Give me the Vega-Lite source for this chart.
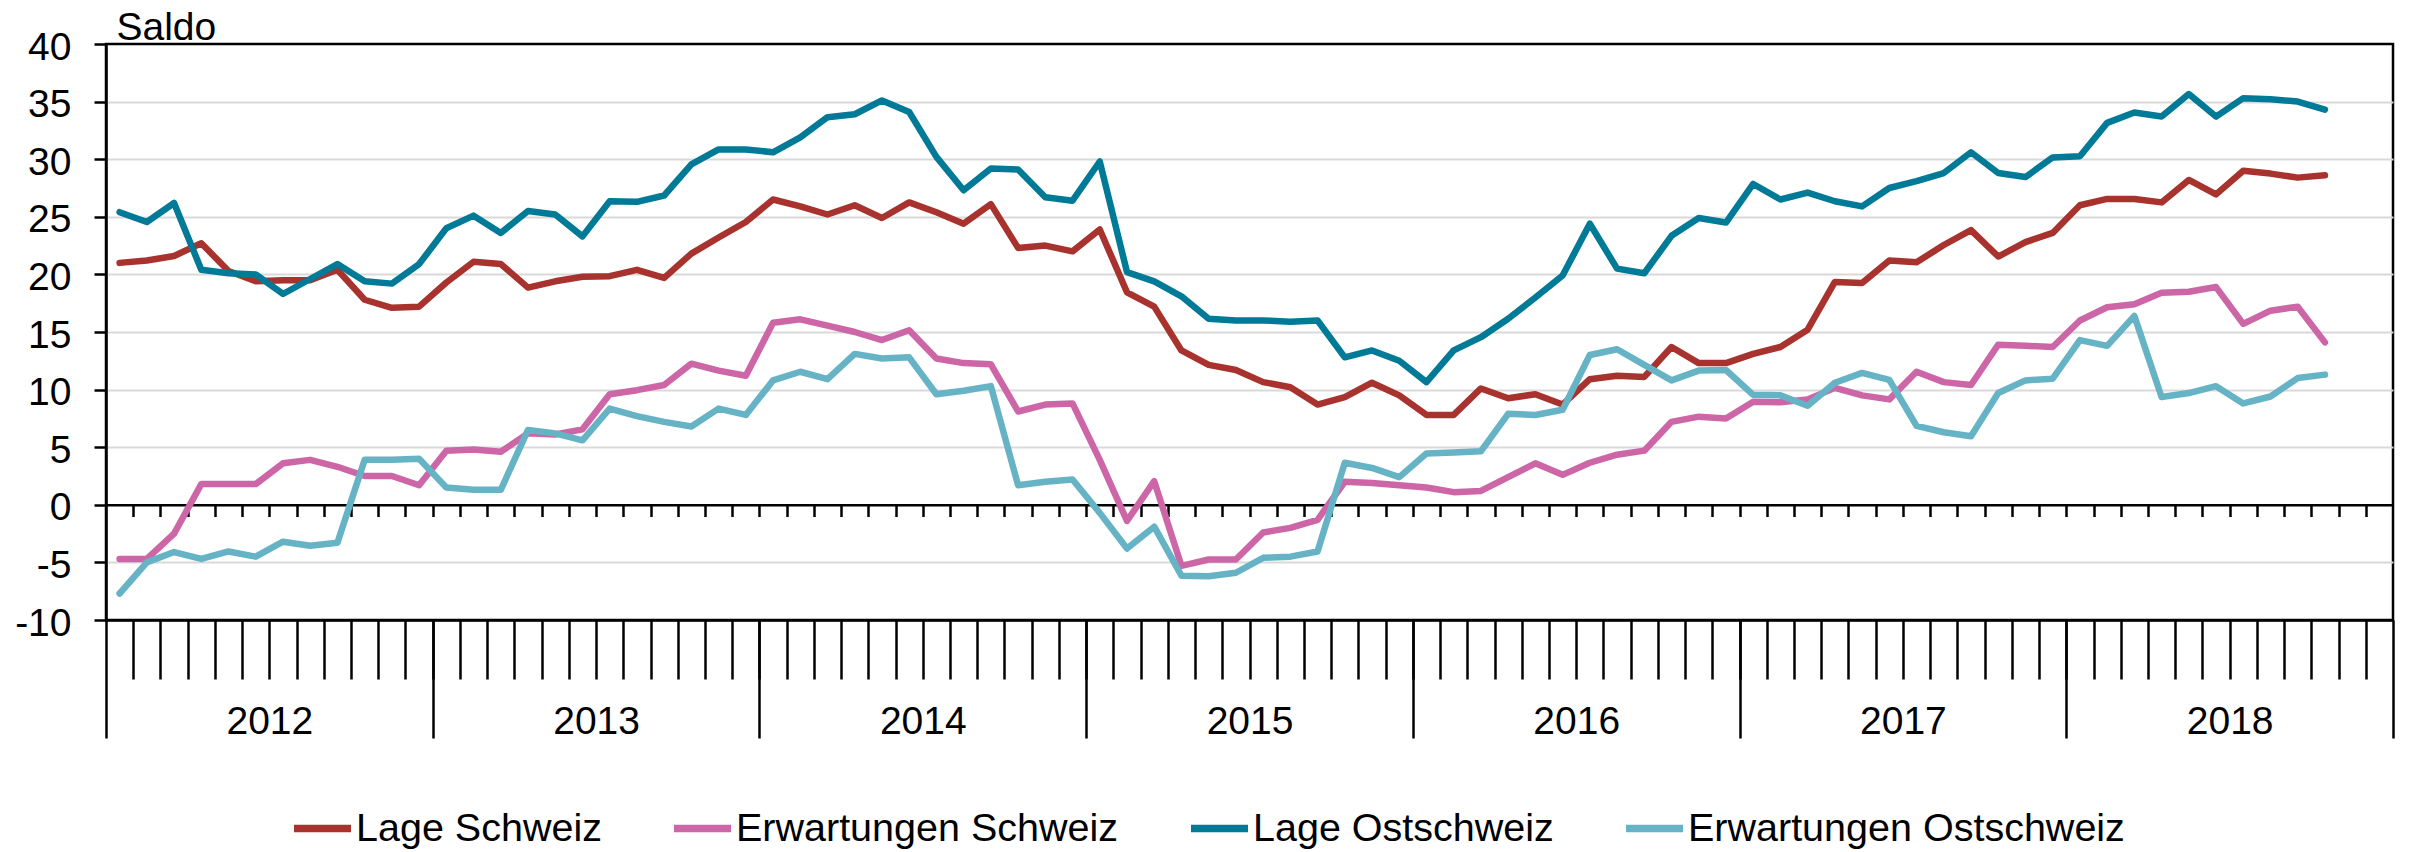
{
  "$schema": "https://vega.github.io/schema/vega-lite/v6.json",
  "width": 2287,
  "height": 576,
  "autosize": {"type": "none"},
  "padding": {"left": 106, "top": 44, "right": 17, "bottom": 232},
  "background": "white",
  "config": {
    "font": "Liberation Sans",
    "view": {"stroke": "black", "strokeWidth": 2.5},
    "axis": {"domainColor": "black", "domainWidth": 2.5, "tickColor": "black", "tickWidth": 2.5, "labelColor": "black", "labelFont": "Liberation Sans", "labelFontSize": 39, "grid": false}
  },
  "data": {"values": [
    {"m":0,"s":"Lage Schweiz","v":21.0},{"m":1,"s":"Lage Schweiz","v":21.2},{"m":2,"s":"Lage Schweiz","v":21.6},{"m":3,"s":"Lage Schweiz","v":22.7},{"m":4,"s":"Lage Schweiz","v":20.3},{"m":5,"s":"Lage Schweiz","v":19.4},{"m":6,"s":"Lage Schweiz","v":19.5},{"m":7,"s":"Lage Schweiz","v":19.5},{"m":8,"s":"Lage Schweiz","v":20.4},{"m":9,"s":"Lage Schweiz","v":17.8},{"m":10,"s":"Lage Schweiz","v":17.1},{"m":11,"s":"Lage Schweiz","v":17.2},
    {"m":12,"s":"Lage Schweiz","v":19.3},{"m":13,"s":"Lage Schweiz","v":21.1},{"m":14,"s":"Lage Schweiz","v":20.9},{"m":15,"s":"Lage Schweiz","v":18.85},{"m":16,"s":"Lage Schweiz","v":19.4},{"m":17,"s":"Lage Schweiz","v":19.8},{"m":18,"s":"Lage Schweiz","v":19.85},{"m":19,"s":"Lage Schweiz","v":20.4},{"m":20,"s":"Lage Schweiz","v":19.7},{"m":21,"s":"Lage Schweiz","v":21.8},{"m":22,"s":"Lage Schweiz","v":23.2},{"m":23,"s":"Lage Schweiz","v":24.55},
    {"m":24,"s":"Lage Schweiz","v":26.5},{"m":25,"s":"Lage Schweiz","v":25.9},{"m":26,"s":"Lage Schweiz","v":25.2},{"m":27,"s":"Lage Schweiz","v":26.0},{"m":28,"s":"Lage Schweiz","v":24.9},{"m":29,"s":"Lage Schweiz","v":26.25},{"m":30,"s":"Lage Schweiz","v":25.4},{"m":31,"s":"Lage Schweiz","v":24.4},{"m":32,"s":"Lage Schweiz","v":26.1},{"m":33,"s":"Lage Schweiz","v":22.3},{"m":34,"s":"Lage Schweiz","v":22.5},{"m":35,"s":"Lage Schweiz","v":22.0},
    {"m":36,"s":"Lage Schweiz","v":23.9},{"m":37,"s":"Lage Schweiz","v":18.45},{"m":38,"s":"Lage Schweiz","v":17.2},{"m":39,"s":"Lage Schweiz","v":13.4},{"m":40,"s":"Lage Schweiz","v":12.15},{"m":41,"s":"Lage Schweiz","v":11.7},{"m":42,"s":"Lage Schweiz","v":10.65},{"m":43,"s":"Lage Schweiz","v":10.2},{"m":44,"s":"Lage Schweiz","v":8.7},{"m":45,"s":"Lage Schweiz","v":9.35},{"m":46,"s":"Lage Schweiz","v":10.6},{"m":47,"s":"Lage Schweiz","v":9.5},
    {"m":48,"s":"Lage Schweiz","v":7.8},{"m":49,"s":"Lage Schweiz","v":7.8},{"m":50,"s":"Lage Schweiz","v":10.1},{"m":51,"s":"Lage Schweiz","v":9.25},{"m":52,"s":"Lage Schweiz","v":9.6},{"m":53,"s":"Lage Schweiz","v":8.7},{"m":54,"s":"Lage Schweiz","v":10.9},{"m":55,"s":"Lage Schweiz","v":11.2},{"m":56,"s":"Lage Schweiz","v":11.1},{"m":57,"s":"Lage Schweiz","v":13.7},{"m":58,"s":"Lage Schweiz","v":12.3},{"m":59,"s":"Lage Schweiz","v":12.3},
    {"m":60,"s":"Lage Schweiz","v":13.1},{"m":61,"s":"Lage Schweiz","v":13.7},{"m":62,"s":"Lage Schweiz","v":15.2},{"m":63,"s":"Lage Schweiz","v":19.35},{"m":64,"s":"Lage Schweiz","v":19.25},{"m":65,"s":"Lage Schweiz","v":21.2},{"m":66,"s":"Lage Schweiz","v":21.05},{"m":67,"s":"Lage Schweiz","v":22.55},{"m":68,"s":"Lage Schweiz","v":23.85},{"m":69,"s":"Lage Schweiz","v":21.55},{"m":70,"s":"Lage Schweiz","v":22.8},{"m":71,"s":"Lage Schweiz","v":23.6},
    {"m":72,"s":"Lage Schweiz","v":26.0},{"m":73,"s":"Lage Schweiz","v":26.55},{"m":74,"s":"Lage Schweiz","v":26.55},{"m":75,"s":"Lage Schweiz","v":26.25},{"m":76,"s":"Lage Schweiz","v":28.2},{"m":77,"s":"Lage Schweiz","v":26.95},{"m":78,"s":"Lage Schweiz","v":29.0},{"m":79,"s":"Lage Schweiz","v":28.75},{"m":80,"s":"Lage Schweiz","v":28.4},{"m":81,"s":"Lage Schweiz","v":28.6},

    {"m":0,"s":"Erwartungen Schweiz","v":-4.7},{"m":1,"s":"Erwartungen Schweiz","v":-4.7},{"m":2,"s":"Erwartungen Schweiz","v":-2.5},{"m":3,"s":"Erwartungen Schweiz","v":1.8},{"m":4,"s":"Erwartungen Schweiz","v":1.8},{"m":5,"s":"Erwartungen Schweiz","v":1.8},{"m":6,"s":"Erwartungen Schweiz","v":3.6},{"m":7,"s":"Erwartungen Schweiz","v":3.9},{"m":8,"s":"Erwartungen Schweiz","v":3.3},{"m":9,"s":"Erwartungen Schweiz","v":2.5},{"m":10,"s":"Erwartungen Schweiz","v":2.5},{"m":11,"s":"Erwartungen Schweiz","v":1.7},
    {"m":12,"s":"Erwartungen Schweiz","v":4.7},{"m":13,"s":"Erwartungen Schweiz","v":4.8},{"m":14,"s":"Erwartungen Schweiz","v":4.6},{"m":15,"s":"Erwartungen Schweiz","v":6.2},{"m":16,"s":"Erwartungen Schweiz","v":6.1},{"m":17,"s":"Erwartungen Schweiz","v":6.55},{"m":18,"s":"Erwartungen Schweiz","v":9.6},{"m":19,"s":"Erwartungen Schweiz","v":9.95},{"m":20,"s":"Erwartungen Schweiz","v":10.4},{"m":21,"s":"Erwartungen Schweiz","v":12.25},{"m":22,"s":"Erwartungen Schweiz","v":11.65},{"m":23,"s":"Erwartungen Schweiz","v":11.2},
    {"m":24,"s":"Erwartungen Schweiz","v":15.8},{"m":25,"s":"Erwartungen Schweiz","v":16.1},{"m":26,"s":"Erwartungen Schweiz","v":15.55},{"m":27,"s":"Erwartungen Schweiz","v":15.0},{"m":28,"s":"Erwartungen Schweiz","v":14.3},{"m":29,"s":"Erwartungen Schweiz","v":15.15},{"m":30,"s":"Erwartungen Schweiz","v":12.7},{"m":31,"s":"Erwartungen Schweiz","v":12.3},{"m":32,"s":"Erwartungen Schweiz","v":12.2},{"m":33,"s":"Erwartungen Schweiz","v":8.1},{"m":34,"s":"Erwartungen Schweiz","v":8.7},{"m":35,"s":"Erwartungen Schweiz","v":8.8},
    {"m":36,"s":"Erwartungen Schweiz","v":3.9},{"m":37,"s":"Erwartungen Schweiz","v":-1.4},{"m":38,"s":"Erwartungen Schweiz","v":2.05},{"m":39,"s":"Erwartungen Schweiz","v":-5.3},{"m":40,"s":"Erwartungen Schweiz","v":-4.75},{"m":41,"s":"Erwartungen Schweiz","v":-4.75},{"m":42,"s":"Erwartungen Schweiz","v":-2.4},{"m":43,"s":"Erwartungen Schweiz","v":-2.0},{"m":44,"s":"Erwartungen Schweiz","v":-1.3},{"m":45,"s":"Erwartungen Schweiz","v":2.0},{"m":46,"s":"Erwartungen Schweiz","v":1.9},{"m":47,"s":"Erwartungen Schweiz","v":1.7},
    {"m":48,"s":"Erwartungen Schweiz","v":1.5},{"m":49,"s":"Erwartungen Schweiz","v":1.1},{"m":50,"s":"Erwartungen Schweiz","v":1.2},{"m":51,"s":"Erwartungen Schweiz","v":2.4},{"m":52,"s":"Erwartungen Schweiz","v":3.6},{"m":53,"s":"Erwartungen Schweiz","v":2.6},{"m":54,"s":"Erwartungen Schweiz","v":3.65},{"m":55,"s":"Erwartungen Schweiz","v":4.35},{"m":56,"s":"Erwartungen Schweiz","v":4.7},{"m":57,"s":"Erwartungen Schweiz","v":7.2},{"m":58,"s":"Erwartungen Schweiz","v":7.65},{"m":59,"s":"Erwartungen Schweiz","v":7.5},
    {"m":60,"s":"Erwartungen Schweiz","v":8.95},{"m":61,"s":"Erwartungen Schweiz","v":8.9},{"m":62,"s":"Erwartungen Schweiz","v":9.15},{"m":63,"s":"Erwartungen Schweiz","v":10.15},{"m":64,"s":"Erwartungen Schweiz","v":9.5},{"m":65,"s":"Erwartungen Schweiz","v":9.15},{"m":66,"s":"Erwartungen Schweiz","v":11.55},{"m":67,"s":"Erwartungen Schweiz","v":10.65},{"m":68,"s":"Erwartungen Schweiz","v":10.4},{"m":69,"s":"Erwartungen Schweiz","v":13.9},{"m":70,"s":"Erwartungen Schweiz","v":13.8},{"m":71,"s":"Erwartungen Schweiz","v":13.7},
    {"m":72,"s":"Erwartungen Schweiz","v":16.0},{"m":73,"s":"Erwartungen Schweiz","v":17.15},{"m":74,"s":"Erwartungen Schweiz","v":17.4},{"m":75,"s":"Erwartungen Schweiz","v":18.4},{"m":76,"s":"Erwartungen Schweiz","v":18.5},{"m":77,"s":"Erwartungen Schweiz","v":18.9},{"m":78,"s":"Erwartungen Schweiz","v":15.7},{"m":79,"s":"Erwartungen Schweiz","v":16.85},{"m":80,"s":"Erwartungen Schweiz","v":17.2},{"m":81,"s":"Erwartungen Schweiz","v":14.1},

    {"m":0,"s":"Lage Ostschweiz","v":25.4},{"m":1,"s":"Lage Ostschweiz","v":24.55},{"m":2,"s":"Lage Ostschweiz","v":26.2},{"m":3,"s":"Lage Ostschweiz","v":20.4},{"m":4,"s":"Lage Ostschweiz","v":20.1},{"m":5,"s":"Lage Ostschweiz","v":20.0},{"m":6,"s":"Lage Ostschweiz","v":18.3},{"m":7,"s":"Lage Ostschweiz","v":19.6},{"m":8,"s":"Lage Ostschweiz","v":20.9},{"m":9,"s":"Lage Ostschweiz","v":19.4},{"m":10,"s":"Lage Ostschweiz","v":19.2},{"m":11,"s":"Lage Ostschweiz","v":20.9},
    {"m":12,"s":"Lage Ostschweiz","v":24.0},{"m":13,"s":"Lage Ostschweiz","v":25.1},{"m":14,"s":"Lage Ostschweiz","v":23.6},{"m":15,"s":"Lage Ostschweiz","v":25.5},{"m":16,"s":"Lage Ostschweiz","v":25.2},{"m":17,"s":"Lage Ostschweiz","v":23.3},{"m":18,"s":"Lage Ostschweiz","v":26.35},{"m":19,"s":"Lage Ostschweiz","v":26.3},{"m":20,"s":"Lage Ostschweiz","v":26.85},{"m":21,"s":"Lage Ostschweiz","v":29.55},{"m":22,"s":"Lage Ostschweiz","v":30.85},{"m":23,"s":"Lage Ostschweiz","v":30.85},
    {"m":24,"s":"Lage Ostschweiz","v":30.6},{"m":25,"s":"Lage Ostschweiz","v":31.9},{"m":26,"s":"Lage Ostschweiz","v":33.65},{"m":27,"s":"Lage Ostschweiz","v":33.9},{"m":28,"s":"Lage Ostschweiz","v":35.1},{"m":29,"s":"Lage Ostschweiz","v":34.1},{"m":30,"s":"Lage Ostschweiz","v":30.2},{"m":31,"s":"Lage Ostschweiz","v":27.3},{"m":32,"s":"Lage Ostschweiz","v":29.2},{"m":33,"s":"Lage Ostschweiz","v":29.1},{"m":34,"s":"Lage Ostschweiz","v":26.7},{"m":35,"s":"Lage Ostschweiz","v":26.4},
    {"m":36,"s":"Lage Ostschweiz","v":29.8},{"m":37,"s":"Lage Ostschweiz","v":20.2},{"m":38,"s":"Lage Ostschweiz","v":19.4},{"m":39,"s":"Lage Ostschweiz","v":18.1},{"m":40,"s":"Lage Ostschweiz","v":16.15},{"m":41,"s":"Lage Ostschweiz","v":16.0},{"m":42,"s":"Lage Ostschweiz","v":16.0},{"m":43,"s":"Lage Ostschweiz","v":15.9},{"m":44,"s":"Lage Ostschweiz","v":16.0},{"m":45,"s":"Lage Ostschweiz","v":12.8},{"m":46,"s":"Lage Ostschweiz","v":13.4},{"m":47,"s":"Lage Ostschweiz","v":12.5},
    {"m":48,"s":"Lage Ostschweiz","v":10.65},{"m":49,"s":"Lage Ostschweiz","v":13.4},{"m":50,"s":"Lage Ostschweiz","v":14.55},{"m":51,"s":"Lage Ostschweiz","v":16.15},{"m":52,"s":"Lage Ostschweiz","v":18.0},{"m":53,"s":"Lage Ostschweiz","v":19.9},{"m":54,"s":"Lage Ostschweiz","v":24.4},{"m":55,"s":"Lage Ostschweiz","v":20.5},{"m":56,"s":"Lage Ostschweiz","v":20.1},{"m":57,"s":"Lage Ostschweiz","v":23.35},{"m":58,"s":"Lage Ostschweiz","v":24.9},{"m":59,"s":"Lage Ostschweiz","v":24.5},
    {"m":60,"s":"Lage Ostschweiz","v":27.85},{"m":61,"s":"Lage Ostschweiz","v":26.5},{"m":62,"s":"Lage Ostschweiz","v":27.1},{"m":63,"s":"Lage Ostschweiz","v":26.35},{"m":64,"s":"Lage Ostschweiz","v":25.9},{"m":65,"s":"Lage Ostschweiz","v":27.5},{"m":66,"s":"Lage Ostschweiz","v":28.1},{"m":67,"s":"Lage Ostschweiz","v":28.8},{"m":68,"s":"Lage Ostschweiz","v":30.6},{"m":69,"s":"Lage Ostschweiz","v":28.8},{"m":70,"s":"Lage Ostschweiz","v":28.45},{"m":71,"s":"Lage Ostschweiz","v":30.15},
    {"m":72,"s":"Lage Ostschweiz","v":30.25},{"m":73,"s":"Lage Ostschweiz","v":33.15},{"m":74,"s":"Lage Ostschweiz","v":34.05},{"m":75,"s":"Lage Ostschweiz","v":33.7},{"m":76,"s":"Lage Ostschweiz","v":35.65},{"m":77,"s":"Lage Ostschweiz","v":33.7},{"m":78,"s":"Lage Ostschweiz","v":35.3},{"m":79,"s":"Lage Ostschweiz","v":35.2},{"m":80,"s":"Lage Ostschweiz","v":35.0},{"m":81,"s":"Lage Ostschweiz","v":34.3},

    {"m":0,"s":"Erwartungen Ostschweiz","v":-7.7},{"m":1,"s":"Erwartungen Ostschweiz","v":-5.0},{"m":2,"s":"Erwartungen Ostschweiz","v":-4.1},{"m":3,"s":"Erwartungen Ostschweiz","v":-4.7},{"m":4,"s":"Erwartungen Ostschweiz","v":-4.05},{"m":5,"s":"Erwartungen Ostschweiz","v":-4.5},{"m":6,"s":"Erwartungen Ostschweiz","v":-3.2},{"m":7,"s":"Erwartungen Ostschweiz","v":-3.55},{"m":8,"s":"Erwartungen Ostschweiz","v":-3.3},{"m":9,"s":"Erwartungen Ostschweiz","v":3.9},{"m":10,"s":"Erwartungen Ostschweiz","v":3.9},{"m":11,"s":"Erwartungen Ostschweiz","v":4.0},
    {"m":12,"s":"Erwartungen Ostschweiz","v":1.5},{"m":13,"s":"Erwartungen Ostschweiz","v":1.3},{"m":14,"s":"Erwartungen Ostschweiz","v":1.3},{"m":15,"s":"Erwartungen Ostschweiz","v":6.5},{"m":16,"s":"Erwartungen Ostschweiz","v":6.2},{"m":17,"s":"Erwartungen Ostschweiz","v":5.6},{"m":18,"s":"Erwartungen Ostschweiz","v":8.35},{"m":19,"s":"Erwartungen Ostschweiz","v":7.7},{"m":20,"s":"Erwartungen Ostschweiz","v":7.2},{"m":21,"s":"Erwartungen Ostschweiz","v":6.8},{"m":22,"s":"Erwartungen Ostschweiz","v":8.35},{"m":23,"s":"Erwartungen Ostschweiz","v":7.8},
    {"m":24,"s":"Erwartungen Ostschweiz","v":10.8},{"m":25,"s":"Erwartungen Ostschweiz","v":11.55},{"m":26,"s":"Erwartungen Ostschweiz","v":10.9},{"m":27,"s":"Erwartungen Ostschweiz","v":13.1},{"m":28,"s":"Erwartungen Ostschweiz","v":12.7},{"m":29,"s":"Erwartungen Ostschweiz","v":12.8},{"m":30,"s":"Erwartungen Ostschweiz","v":9.6},{"m":31,"s":"Erwartungen Ostschweiz","v":9.9},{"m":32,"s":"Erwartungen Ostschweiz","v":10.3},{"m":33,"s":"Erwartungen Ostschweiz","v":1.7},{"m":34,"s":"Erwartungen Ostschweiz","v":2.0},{"m":35,"s":"Erwartungen Ostschweiz","v":2.2},
    {"m":36,"s":"Erwartungen Ostschweiz","v":-0.7},{"m":37,"s":"Erwartungen Ostschweiz","v":-3.8},{"m":38,"s":"Erwartungen Ostschweiz","v":-1.9},{"m":39,"s":"Erwartungen Ostschweiz","v":-6.15},{"m":40,"s":"Erwartungen Ostschweiz","v":-6.2},{"m":41,"s":"Erwartungen Ostschweiz","v":-5.9},{"m":42,"s":"Erwartungen Ostschweiz","v":-4.6},{"m":43,"s":"Erwartungen Ostschweiz","v":-4.5},{"m":44,"s":"Erwartungen Ostschweiz","v":-4.05},{"m":45,"s":"Erwartungen Ostschweiz","v":3.65},{"m":46,"s":"Erwartungen Ostschweiz","v":3.2},{"m":47,"s":"Erwartungen Ostschweiz","v":2.4},
    {"m":48,"s":"Erwartungen Ostschweiz","v":4.45},{"m":49,"s":"Erwartungen Ostschweiz","v":4.55},{"m":50,"s":"Erwartungen Ostschweiz","v":4.65},{"m":51,"s":"Erwartungen Ostschweiz","v":7.9},{"m":52,"s":"Erwartungen Ostschweiz","v":7.8},{"m":53,"s":"Erwartungen Ostschweiz","v":8.25},{"m":54,"s":"Erwartungen Ostschweiz","v":13.0},{"m":55,"s":"Erwartungen Ostschweiz","v":13.5},{"m":56,"s":"Erwartungen Ostschweiz","v":12.15},{"m":57,"s":"Erwartungen Ostschweiz","v":10.8},{"m":58,"s":"Erwartungen Ostschweiz","v":11.65},{"m":59,"s":"Erwartungen Ostschweiz","v":11.7},
    {"m":60,"s":"Erwartungen Ostschweiz","v":9.55},{"m":61,"s":"Erwartungen Ostschweiz","v":9.5},{"m":62,"s":"Erwartungen Ostschweiz","v":8.6},{"m":63,"s":"Erwartungen Ostschweiz","v":10.6},{"m":64,"s":"Erwartungen Ostschweiz","v":11.45},{"m":65,"s":"Erwartungen Ostschweiz","v":10.85},{"m":66,"s":"Erwartungen Ostschweiz","v":6.85},{"m":67,"s":"Erwartungen Ostschweiz","v":6.3},{"m":68,"s":"Erwartungen Ostschweiz","v":5.95},{"m":69,"s":"Erwartungen Ostschweiz","v":9.7},{"m":70,"s":"Erwartungen Ostschweiz","v":10.8},{"m":71,"s":"Erwartungen Ostschweiz","v":10.95},
    {"m":72,"s":"Erwartungen Ostschweiz","v":14.3},{"m":73,"s":"Erwartungen Ostschweiz","v":13.8},{"m":74,"s":"Erwartungen Ostschweiz","v":16.4},{"m":75,"s":"Erwartungen Ostschweiz","v":9.35},{"m":76,"s":"Erwartungen Ostschweiz","v":9.7},{"m":77,"s":"Erwartungen Ostschweiz","v":10.3},{"m":78,"s":"Erwartungen Ostschweiz","v":8.8},{"m":79,"s":"Erwartungen Ostschweiz","v":9.4},{"m":80,"s":"Erwartungen Ostschweiz","v":11.0},{"m":81,"s":"Erwartungen Ostschweiz","v":11.3}
  ]},
  "layer": [
    {
      "mark": {"type": "line", "strokeWidth": 6.5, "strokeCap": "round", "strokeJoin": "round"},
      "encoding": {
        "x": {
          "field": "m", "type": "quantitative",
          "scale": {"domain": [-0.5, 83.5], "nice": false, "zero": false},
          "axis": {"orient": "bottom", "title": null, "labels": false, "grid": false, "domain": true, "tickSize": 59,
            "values": [0.5,1.5,2.5,3.5,4.5,5.5,6.5,7.5,8.5,9.5,10.5,11.5,12.5,13.5,14.5,15.5,16.5,17.5,18.5,19.5,20.5,21.5,22.5,23.5,24.5,25.5,26.5,27.5,28.5,29.5,30.5,31.5,32.5,33.5,34.5,35.5,36.5,37.5,38.5,39.5,40.5,41.5,42.5,43.5,44.5,45.5,46.5,47.5,48.5,49.5,50.5,51.5,52.5,53.5,54.5,55.5,56.5,57.5,58.5,59.5,60.5,61.5,62.5,63.5,64.5,65.5,66.5,67.5,68.5,69.5,70.5,71.5,72.5,73.5,74.5,75.5,76.5,77.5,78.5,79.5,80.5,81.5,82.5]}
        },
        "y": {
          "field": "v", "type": "quantitative",
          "scale": {"domain": [-10, 40], "nice": false, "zero": false},
          "axis": {
            "values": [-10,-5,0,5,10,15,20,25,30,35,40],
            "labelExpr": "'' + datum.value",
            "tickSize": 12, "labelPadding": 23, "labelOffset": 3, "labelFontSize": 39,
            "grid": true, "gridColor": {"condition": {"test": "datum.value === 0 || datum.value === 40 || datum.value === -10", "value": "transparent"}, "value": "#d9d9d9"}, "gridWidth": 2.2,
            "title": "Saldo", "titleAngle": 0, "titleAlign": "left", "titleBaseline": "alphabetic", "titleX": 10, "titleY": -4.5,
            "titleFont": "Liberation Sans", "titleFontSize": 39, "titleFontWeight": "normal", "titleColor": "black"
          }
        },
        "color": {
          "field": "s", "type": "nominal",
          "scale": {"domain": ["Lage Schweiz", "Erwartungen Schweiz", "Lage Ostschweiz", "Erwartungen Ostschweiz"], "range": ["#a8322d", "#cc66a6", "#007a96", "#66b3c6"]},
          "legend": {"orient": "none", "legendX": 184, "legendY": 752, "direction": "horizontal", "columns": 4, "title": null,
            "labelFont": "Liberation Sans", "labelFontSize": 39.5, "labelColor": "black", "labelLimit": 0, "labelOffset": 1,
            "symbolType": "stroke", "symbolStrokeWidth": 7.7, "symbolSize": 3249, "columnPadding": 56, "padding": 0}
        }
      }
    },
    {
      "mark": {"type": "point", "opacity": 0},
      "encoding": {
        "x": {"field": "m", "type": "quantitative",
          "axis": {"orient": "bottom", "title": null, "labels": false, "grid": false, "domain": false, "tickSize": 118,
            "values": [-0.5, 11.5, 23.5, 35.5, 47.5, 59.5, 71.5, 83.5]}}
      }
    },
    {
      "mark": {"type": "point", "opacity": 0},
      "encoding": {
        "x": {"field": "m", "type": "quantitative",
          "axis": {"orient": "bottom", "title": null, "ticks": false, "tickSize": 0, "grid": false, "domain": false,
            "values": [5.5, 17.5, 29.5, 41.5, 53.5, 65.5, 77.5],
            "labelExpr": "'' + (2012 + (datum.value - 5.5) / 12)", "labelFontSize": 39, "labelBaseline": "alphabetic", "labelPadding": 113, "labelFlush": false}}
      }
    },
    {
      "mark": {"type": "point", "opacity": 0},
      "encoding": {
        "x": {"field": "m", "type": "quantitative",
          "axis": {"orient": "bottom", "offset": -115.2, "title": null, "labels": false, "grid": false, "domain": true, "tickSize": 11.7,
            "values": [0.5,1.5,2.5,3.5,4.5,5.5,6.5,7.5,8.5,9.5,10.5,11.5,12.5,13.5,14.5,15.5,16.5,17.5,18.5,19.5,20.5,21.5,22.5,23.5,24.5,25.5,26.5,27.5,28.5,29.5,30.5,31.5,32.5,33.5,34.5,35.5,36.5,37.5,38.5,39.5,40.5,41.5,42.5,43.5,44.5,45.5,46.5,47.5,48.5,49.5,50.5,51.5,52.5,53.5,54.5,55.5,56.5,57.5,58.5,59.5,60.5,61.5,62.5,63.5,64.5,65.5,66.5,67.5,68.5,69.5,70.5,71.5,72.5,73.5,74.5,75.5,76.5,77.5,78.5,79.5,80.5,81.5,82.5]}}
      }
    }
  ],
  "resolve": {"axis": {"x": "independent"}}
}
